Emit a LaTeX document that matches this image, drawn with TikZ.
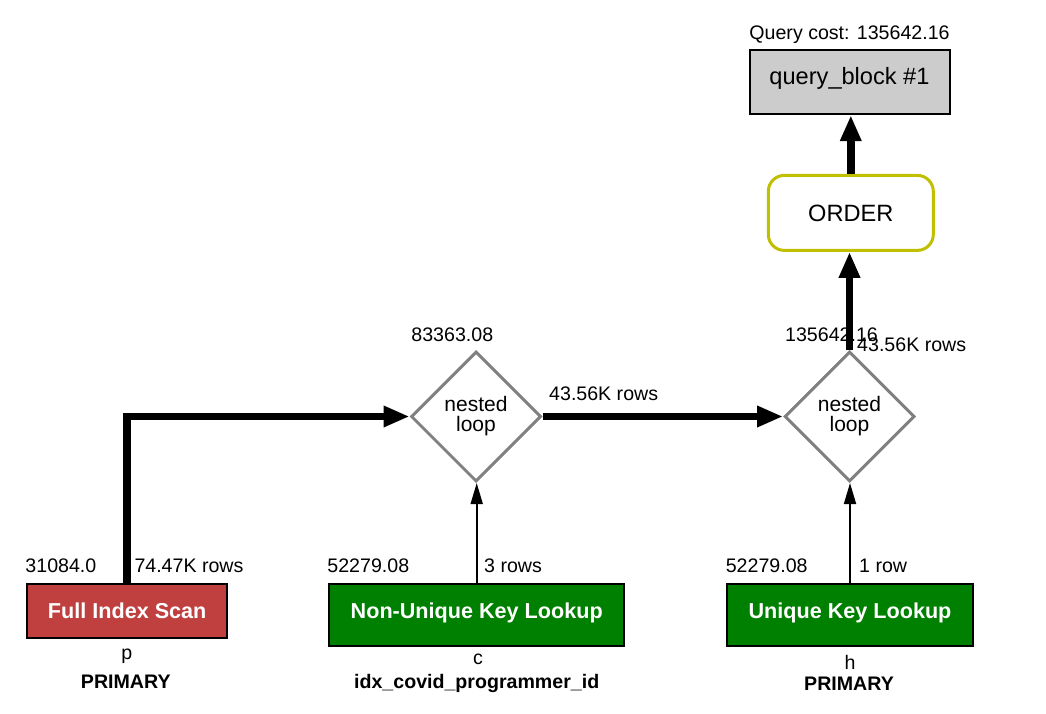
\documentclass[tikz,border=0pt]{standalone}
\usepackage{fontspec}
\setmainfont{Liberation Sans}
\usetikzlibrary{arrows.meta,shapes.geometric}
\definecolor{scanred}{RGB}{192,64,64}
\definecolor{lookgreen}{RGB}{0,128,0}
\definecolor{qbgray}{RGB}{204,204,204}
\definecolor{orderyel}{RGB}{192,192,0}
\definecolor{loopgray}{RGB}{128,128,128}
\tikzset{
 lbl/.style={inner sep=0pt, anchor=base, font=\fontsize{19.6}{22}\selectfont},
 lbll/.style={lbl, anchor=base west},
 lblb/.style={lbl, font=\fontsize{19.6}{22}\selectfont\bfseries},
 opbox/.style={draw=black, line width=2pt, inner sep=0pt, text=white, text height=15.6pt, font=\fontsize{21.6}{24}\selectfont\bfseries},
 loopnode/.style={diamond, aspect=1, draw=loopgray, line width=3pt, minimum width=130pt, minimum height=130pt, inner sep=0pt, align=center, font=\fontsize{21}{20}\selectfont},
 thickarrow/.style={line width=7.5pt, -{Triangle[length=26pt,width=20pt]}},
 thinarrow/.style={line width=1.8pt, -{Triangle[length=21pt,width=12pt]}},
}
\begin{document}
\begin{tikzpicture}[x=1pt,y=-1pt]
\useasboundingbox (0,0) rectangle (1046,714);
% operator nodes
\node[draw=black, line width=2pt, fill=qbgray, minimum width=200pt, minimum height=64pt, inner sep=0pt,
      font=\fontsize{23.6}{26}\selectfont, text height=17pt, text depth=11.4pt] (qb) at (849.5,82.2) {query\_block \#1};
\node[draw=orderyel, line width=3pt, rounded corners=16pt, minimum width=165pt, minimum height=75pt, inner sep=0pt,
      font=\fontsize{23.6}{26}\selectfont, text height=17.6pt, text depth=0pt] (order) at (850.8,212.9) {ORDER};
\node[loopnode] (nl1) at (476,416.5) {nested\\loop};
\node[loopnode] (nl2) at (849.5,416.5) {nested\\loop};
\node[opbox, fill=scanred, minimum width=200pt, minimum height=54pt, text depth=0pt] (fis) at (127.2,610.7) {Full Index Scan};
\node[opbox, fill=lookgreen, minimum width=294.7pt, minimum height=62.6pt, text depth=9.6pt] (nukl) at (476.7,615) {Non-Unique Key Lookup};
\node[opbox, fill=lookgreen, minimum width=246.6pt, minimum height=62.6pt, text depth=9.6pt] (ukl) at (850,615) {Unique Key Lookup};
% labels
\node[lbl] (qcost) at (849.5,40) {Query cost: 135642.16};
\node[lbl] (cost1) at (452.3,341.7) {83363.08};
\node[lbll] (rows1) at (549,400) {43.56K rows};
\node[lbl] (cost2) at (831.5,341.7) {135642.16};
\node[lbll] (rows2) at (857,351.7) {43.56K rows};
\node[lbl] (cost3) at (60.9,572.5) {31084.0};
\node[lbll] (rows3) at (134.3,572.5) {74.47K rows};
\node[lbl] (tp) at (126.7,659) {p};
\node[lblb] (kp) at (125.8,688) {PRIMARY};
\node[lbl] (cost4) at (368.3,572) {52279.08};
\node[lbll] (rows4) at (484,572) {3 rows};
\node[lbl] (tc) at (478,664) {c};
\node[lblb] (kc) at (476.7,688.3) {idx\_covid\_programmer\_id};
\node[lbl] (cost5) at (766.7,572) {52279.08};
\node[lbll] (rows5) at (859,572) {1 row};
\node[lbl] (th) at (850,669.3) {h};
\node[lblb] (kh) at (849,690) {PRIMARY};
% connectors
\draw[thickarrow] (fis.north) |- (nl1.west);
\draw[thickarrow] (nl1.east) -- (nl2.west);
\draw[thinarrow] (nukl.north) -- (nukl.north |- nl1.south);
\draw[thinarrow] (ukl.north) -- (ukl.north |- nl2.south);
\draw[thickarrow] (nl2.north) -- (nl2.north |- order.south);
\draw[thickarrow] (order.north) -- (order.north |- qb.south);
\end{tikzpicture}
\end{document}
